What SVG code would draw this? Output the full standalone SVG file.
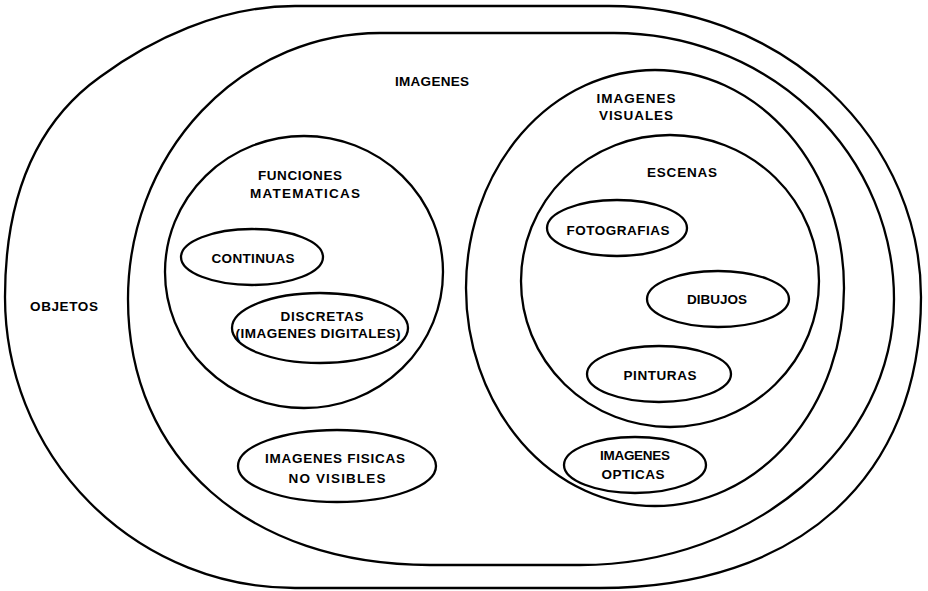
<svg xmlns="http://www.w3.org/2000/svg" width="928" height="591" viewBox="0 0 928 591">
<style>
.s{fill:none;stroke:#000;stroke-width:2.3}
text{font-family:"Liberation Sans",Arial,sans-serif;font-weight:bold;font-size:13.5px;fill:#000;text-anchor:middle}
</style>
<rect width="928" height="591" fill="#fff"/>
<g id="objetos">
<path class="s" d="M295 6 L609 6 A312 291 0 0 1 921 297 C921 477 799 588 600 588 L295 588 A290 291 0 0 1 5 297 C5 190 40 120 100 77 C150 40 220 6 295 6 Z"/>
<text x="64" y="311" textLength="68" lengthAdjust="spacing">OBJETOS</text>
</g>
<g id="imagenes">
<path class="s" d="M380 33 L614 33 A280 266 0 0 1 894 299 C894 445 753 565 580 565 L430 565 C249 565 128 459 128 299 A252 266 0 0 1 380 33 Z"/>
<text x="432" y="86" textLength="74" lengthAdjust="spacing">IMAGENES</text>
</g>
<g id="funciones">
<ellipse class="s" cx="304" cy="272" rx="139" ry="136"/>
<text x="300" y="180" textLength="84" lengthAdjust="spacing">FUNCIONES</text>
<text x="305" y="198" textLength="110" lengthAdjust="spacing">MATEMATICAS</text>
</g>
<g id="continuas">
<ellipse class="s" cx="252" cy="257" rx="71" ry="28"/>
<text x="253" y="263" textLength="83" lengthAdjust="spacing">CONTINUAS</text>
</g>
<g id="discretas">
<ellipse class="s" cx="320" cy="328" rx="88" ry="35"/>
<text x="322" y="321" textLength="83" lengthAdjust="spacing">DISCRETAS</text>
<text x="318" y="338" textLength="165" lengthAdjust="spacing">(IMAGENES DIGITALES)</text>
</g>
<g id="fisicas">
<ellipse class="s" cx="337" cy="466" rx="99" ry="36"/>
<text x="335" y="463" textLength="140" lengthAdjust="spacing">IMAGENES FISICAS</text>
<text x="337" y="483" textLength="97" lengthAdjust="spacing">NO VISIBLES</text>
</g>
<g id="visuales">
<ellipse class="s" cx="655" cy="288" rx="189" ry="218"/>
<text x="636" y="103" textLength="79" lengthAdjust="spacing">IMAGENES</text>
<text x="636" y="120" textLength="74" lengthAdjust="spacing">VISUALES</text>
</g>
<g id="escenas">
<ellipse class="s" cx="670" cy="281" rx="149" ry="146"/>
<text x="682" y="177" textLength="70" lengthAdjust="spacing">ESCENAS</text>
</g>
<g id="fotografias">
<ellipse class="s" cx="617" cy="228" rx="70" ry="28"/>
<text x="618" y="235" textLength="103" lengthAdjust="spacing">FOTOGRAFIAS</text>
</g>
<g id="dibujos">
<ellipse class="s" cx="718" cy="299" rx="71" ry="28"/>
<text x="717" y="304" textLength="60" lengthAdjust="spacing">DIBUJOS</text>
</g>
<g id="pinturas">
<ellipse class="s" cx="659" cy="374" rx="72" ry="28"/>
<text x="660" y="380" textLength="73" lengthAdjust="spacing">PINTURAS</text>
</g>
<g id="opticas">
<ellipse class="s" cx="635" cy="465" rx="71" ry="28"/>
<text x="635" y="460" textLength="70" lengthAdjust="spacing">IMAGENES</text>
<text x="633" y="479" textLength="63" lengthAdjust="spacing">OPTICAS</text>
</g>
<g id="connectors"></g>
</svg>
